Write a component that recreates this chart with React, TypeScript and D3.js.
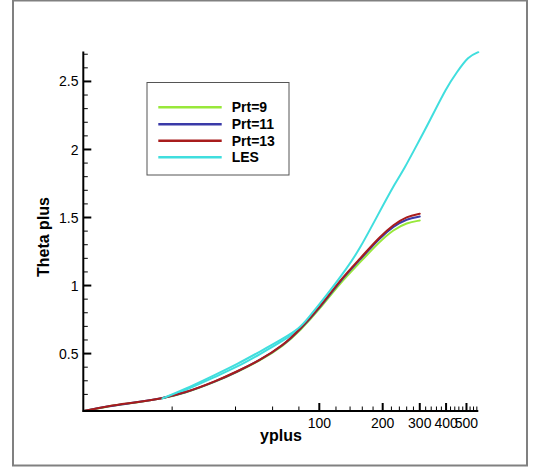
import * as d3 from 'd3';

// yplus / theta-plus samples
const prt9: [number, number][] = [
  [7.6, 0.078], [9.9, 0.113], [13.6, 0.14], [17.9, 0.17], [22.6, 0.204], [32.6, 0.296],
  [40.5, 0.362], [52.3, 0.448], [67.5, 0.556], [81, 0.668], [101.5, 0.835], [125, 1.015],
  [156, 1.17], [194, 1.325], [225, 1.41], [260, 1.462], [300, 1.478],
];
const prt11: [number, number][] = [
  [7.6, 0.078], [9.9, 0.114], [13.6, 0.141], [17.9, 0.171], [22.6, 0.206], [32.6, 0.298],
  [40.5, 0.365], [52.3, 0.451], [67.5, 0.56], [81, 0.675], [101.5, 0.845], [125, 1.03],
  [156, 1.19], [194, 1.35], [225, 1.435], [260, 1.49], [300, 1.507],
];
const prt13: [number, number][] = [
  [7.6, 0.078], [9.9, 0.115], [13.6, 0.142], [17.9, 0.171], [22.6, 0.207], [32.6, 0.3],
  [40.5, 0.367], [52.3, 0.452], [67.5, 0.562], [81, 0.678], [101.5, 0.85], [125, 1.037],
  [156, 1.198], [194, 1.36], [225, 1.447], [260, 1.508], [300, 1.528],
];
const les: [number, number][] = [
  [18, 0.171], [22.6, 0.232], [32.6, 0.35], [40.5, 0.42], [52.3, 0.515], [67.5, 0.61],
  [81, 0.69], [87.1, 0.746], [108.4, 0.929], [135, 1.125], [156, 1.272], [187.4, 1.504],
  [233, 1.773], [250.5, 1.845], [290, 2.03], [335.5, 2.214], [402.7, 2.458], [449, 2.565],
  [510, 2.685], [569, 2.715],
];
const lesInner: [number, number][] = [
  [18, 0.171], [22.6, 0.222], [32.6, 0.335], [40.5, 0.4], [52.3, 0.496], [67.5, 0.595],
  [81, 0.68], [87.1, 0.74],
];

const seriesNames = ['Prt=9', 'Prt=11', 'Prt=13', 'LES'];
const seriesColors = ['#98e83a', '#3a3aa8', '#a81c1c', '#40dede'];

const xMajor = [100, 200, 300, 400, 500];
const xMinor = [20, 40, 60, 80, 120, 140, 160, 180, 220, 240, 260, 280, 320, 340, 360, 380, 420, 440, 460, 480, 520, 540, 560];
const yMajor = [0.5, 1, 1.5, 2, 2.5];
const yMinor = [0.2, 0.3, 0.4, 0.6, 0.7, 0.8, 0.9, 1.1, 1.2, 1.3, 1.4, 1.6, 1.7, 1.8, 1.9, 2.1, 2.2, 2.3, 2.4, 2.6, 2.7];

export default function App() {
  const width = 537;
  const height = 468;
  const x = d3.scaleLog().domain([7.57, 569]).range([83.3, 478.3]);
  const y = d3.scaleLinear().domain([0.078, 2.72]).range([411, 51.5]);
  const line = d3
    .line<[number, number]>()
    .x((d) => x(d[0]))
    .y((d) => y(d[1]))
    .curve(d3.curveBasis);

  const curves = [prt9, prt11, prt13, les];
  const font = 'Arial, "Liberation Sans", sans-serif';
  const legendY = [107.3, 124.3, 140.7, 157.3];

  return (
    <svg width={width} height={height} style={{ position: 'absolute', left: 0, top: 0, background: '#fff' }}>
      <rect x={0} y={0} width={width} height={height} fill="#fff" />
      <rect x={13} y={0.5} width={514} height={465} fill="none" stroke="#808080" strokeWidth={2} />

      {/* data curves */}
      <g fill="none" strokeWidth={2} strokeLinejoin="round" strokeLinecap="round">
        <path d={line(lesInner) ?? ''} stroke={seriesColors[3]} />
        {curves.map((c, i) => (
          <path key={seriesNames[i]} d={line(c) ?? ''} stroke={seriesColors[i]} />
        ))}
      </g>

      {/* axes */}
      <g stroke="#000">
        <line x1={x.range()[0]} x2={x.range()[1]} y1={y.range()[0]} y2={y.range()[0]} strokeWidth={2} />
        <line x1={x.range()[0]} x2={x.range()[0]} y1={y.range()[0] + 1} y2={y.range()[1]} strokeWidth={2} />
        {xMajor.map((v) => (
          <line key={'xM' + v} x1={x(v)} x2={x(v)} y1={y.range()[0]} y2={y.range()[0] - 8} strokeWidth={2} />
        ))}
        {xMinor.map((v) => (
          <line key={'xm' + v} x1={x(v)} x2={x(v)} y1={y.range()[0]} y2={y.range()[0] - 4.5} strokeWidth={1} />
        ))}
        {yMajor.map((v) => (
          <line key={'yM' + v} x1={x.range()[0]} x2={x.range()[0] + 8} y1={y(v)} y2={y(v)} strokeWidth={2} />
        ))}
        {yMinor.map((v) => (
          <line key={'ym' + v} x1={x.range()[0]} x2={x.range()[0] + 4.5} y1={y(v)} y2={y(v)} strokeWidth={1} />
        ))}
      </g>

      <g fontFamily={font} fontSize={14} fill="#000">
        {xMajor.map((v) => (
          <text key={'xl' + v} x={x(v)} y={427.5} textAnchor="middle">
            {d3.format('d')(v)}
          </text>
        ))}
        {yMajor.map((v) => (
          <text key={'yl' + v} x={78.5} y={y(v)} dy="0.36em" textAnchor="end">
            {String(v)}
          </text>
        ))}
      </g>

      <text x={281} y={441} textAnchor="middle" fontFamily={font} fontWeight="bold" fontSize={16}>
        yplus
      </text>
      <text
        transform="translate(49,237) rotate(-90)"
        textAnchor="middle"
        fontFamily={font}
        fontWeight="bold"
        fontSize={16}
      >
        Theta plus
      </text>

      {/* legend */}
      <rect x={147} y={82.5} width={142} height={92.5} fill="#fff" stroke="#555" strokeWidth={1} />
      {seriesNames.map((n, i) => (
        <g key={n}>
          <line x1={158.3} x2={221.7} y1={legendY[i]} y2={legendY[i]} stroke={seriesColors[i]} strokeWidth={2.5} />
          <text x={231.7} y={legendY[i]} dy="0.36em" fontFamily={font} fontWeight="bold" fontSize={14}>
            {n}
          </text>
        </g>
      ))}
    </svg>
  );
}
